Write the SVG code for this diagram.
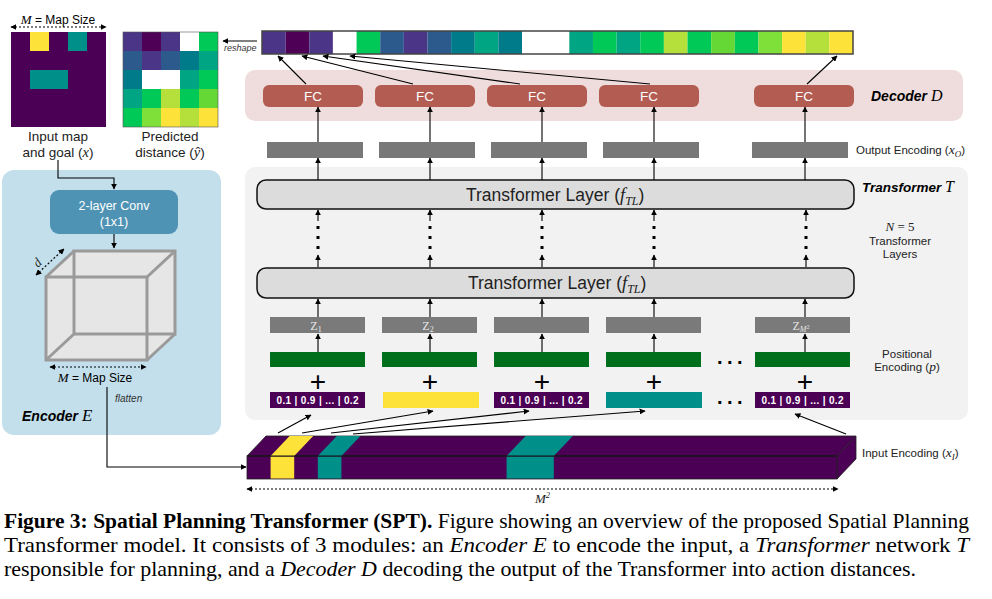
<svg xmlns="http://www.w3.org/2000/svg" width="992" height="599" viewBox="0 0 992 599">
<defs>
<marker id="ah" viewBox="0 0 10 10" refX="9" refY="5" markerWidth="6" markerHeight="6" markerUnits="userSpaceOnUse" orient="auto-start-reverse"><path d="M0,0 L10,5 L0,10 z" fill="#000"/></marker>
<style>
.sans{font-family:"Liberation Sans",Arial,sans-serif}
.ser{font-family:"Liberation Serif","Times New Roman",serif}
.mi{font-family:"Liberation Serif","Times New Roman",serif;font-style:italic}
.ln{stroke:#000;stroke-width:1.1;fill:none}
.arr{stroke:#000;stroke-width:1.1;fill:none;marker-end:url(#ah)}
.dot{stroke:#000;stroke-width:1.2;fill:none;stroke-dasharray:2 2;marker-start:url(#ah);marker-end:url(#ah)}
.fc{fill:#b35c52}
.fct{fill:#fff;font-size:13.5px;text-anchor:middle}
.oe{fill:#787878}
.z{fill:#7a7a7a}
.zt{fill:#e6e6e6;font-size:12px;text-anchor:middle}
.pe{fill:#006f1c}
.tl{fill:#dcdcdc;stroke:#111;stroke-width:1.5}
.tlt{font-size:17.5px;fill:#222}
.lab{font-size:11.5px;fill:#222}
.plus{font-size:28px;text-anchor:middle;fill:#000}
.tok{fill:#fff;font-size:10px;font-weight:bold;text-anchor:middle}
.cube{stroke:#9a9a9a;stroke-width:3;fill:none}
.cap{font-family:"Liberation Serif","Times New Roman",serif;font-size:21px;fill:#000}
</style>
</defs>
<rect width="992" height="599" fill="#fff"/>

<!-- Module backgrounds -->
<g id="decoder-bg"><rect x="245" y="70" width="718" height="51" rx="10" fill="#efdcdc"/></g>
<g id="transformer-bg"><rect x="245" y="167" width="723" height="253" rx="10" fill="#f2f2f2"/></g>
<g id="encoder-bg"><rect x="2" y="170" width="219" height="265" rx="12" fill="#c3dfec"/></g>

<!-- Input map -->
<g id="input-map">
<rect x="11" y="32" width="95" height="95" fill="#4b0055"/>
<rect x="30" y="32" width="19" height="19" fill="#fde23a"/>
<rect x="68" y="32" width="19" height="19" fill="#009089"/>
<rect x="30" y="70" width="38" height="19" fill="#009089"/>
<text class="sans" x="58" y="24" font-size="12" text-anchor="middle" fill="#000"><tspan class="mi" font-size="13">M</tspan> = Map Size</text>
<text class="sans" x="58" y="141" font-size="13.5" text-anchor="middle" fill="#222">Input map</text>
<text class="sans" x="58" y="157" font-size="13.5" text-anchor="middle" fill="#222">and goal (<tspan class="mi" font-size="14.5">x</tspan>)</text>
</g>

<!-- Predicted distance -->
<g id="predicted-distance">
<rect x="123" y="32" width="19" height="19" fill="#4b3587"/>
<rect x="142" y="32" width="19" height="19" fill="#4d0056"/>
<rect x="161" y="32" width="19" height="19" fill="#4b3587"/>
<rect x="180" y="32" width="19" height="19" fill="#ffffff"/>
<rect x="199" y="32" width="19" height="19" fill="#00c957"/>
<rect x="123" y="51" width="19" height="19" fill="#2c5a8c"/>
<rect x="142" y="51" width="19" height="19" fill="#4b3587"/>
<rect x="161" y="51" width="19" height="19" fill="#2c5a8c"/>
<rect x="180" y="51" width="19" height="19" fill="#007b8a"/>
<rect x="199" y="51" width="19" height="19" fill="#00a683"/>
<rect x="123" y="70" width="19" height="19" fill="#007b8a"/>
<rect x="142" y="70" width="38" height="19" fill="#ffffff"/>
<rect x="180" y="70" width="19" height="19" fill="#00a683"/>
<rect x="199" y="70" width="19" height="19" fill="#00c957"/>
<rect x="123" y="89" width="19" height="19" fill="#00a683"/>
<rect x="142" y="89" width="19" height="19" fill="#00c957"/>
<rect x="161" y="89" width="19" height="19" fill="#b5e03b"/>
<rect x="180" y="89" width="19" height="19" fill="#00c957"/>
<rect x="199" y="89" width="19" height="19" fill="#66d836"/>
<rect x="123" y="108" width="19" height="19" fill="#00c957"/>
<rect x="142" y="108" width="19" height="19" fill="#7fe03a"/>
<rect x="161" y="108" width="19" height="19" fill="#fde23a"/>
<rect x="180" y="108" width="19" height="19" fill="#b5e03b"/>
<rect x="199" y="108" width="19" height="19" fill="#fde23a"/>
<rect x="123" y="32" width="95" height="95" fill="none" stroke="#555" stroke-width="0.6"/>
<text class="sans" x="170" y="141" font-size="13.5" text-anchor="middle" fill="#222">Predicted</text>
<text class="sans" x="170" y="157" font-size="13.5" text-anchor="middle" fill="#222">distance (<tspan class="mi" font-size="14.5">ŷ</tspan>)</text>
</g>

<!-- Output bar -->
<g id="output-bar">
<rect x="262" y="31" width="23.64" height="23" fill="#4b3587"/>
<rect x="285.64" y="31" width="23.64" height="23" fill="#4d0056"/>
<rect x="309.28" y="31" width="23.64" height="23" fill="#4b3587"/>
<rect x="332.92" y="31" width="23.64" height="23" fill="#ffffff"/>
<rect x="356.56" y="31" width="23.64" height="23" fill="#00c957"/>
<rect x="380.2" y="31" width="23.64" height="23" fill="#2c5a8c"/>
<rect x="403.84" y="31" width="23.64" height="23" fill="#4b3587"/>
<rect x="427.48" y="31" width="23.64" height="23" fill="#2c5a8c"/>
<rect x="451.12" y="31" width="23.64" height="23" fill="#007b8a"/>
<rect x="474.76" y="31" width="23.64" height="23" fill="#00a683"/>
<rect x="498.4" y="31" width="23.64" height="23" fill="#007b8a"/>
<rect x="522.04" y="31" width="47.28" height="23" fill="#ffffff"/>
<rect x="569.32" y="31" width="23.64" height="23" fill="#00a683"/>
<rect x="592.96" y="31" width="23.64" height="23" fill="#00c957"/>
<rect x="616.6" y="31" width="23.64" height="23" fill="#00a683"/>
<rect x="640.24" y="31" width="23.64" height="23" fill="#00c957"/>
<rect x="663.88" y="31" width="23.64" height="23" fill="#b5e03b"/>
<rect x="687.52" y="31" width="23.64" height="23" fill="#00c957"/>
<rect x="711.16" y="31" width="23.64" height="23" fill="#66d836"/>
<rect x="734.8" y="31" width="23.64" height="23" fill="#00c957"/>
<rect x="758.44" y="31" width="23.64" height="23" fill="#7fe03a"/>
<rect x="782.08" y="31" width="23.64" height="23" fill="#fde23a"/>
<rect x="805.72" y="31" width="23.64" height="23" fill="#b5e03b"/>
<rect x="829.36" y="31" width="23.64" height="23" fill="#fde23a"/>
<rect x="262" y="31" width="591" height="23" fill="none" stroke="#444" stroke-width="1.5"/>
<text class="sans" x="224" y="51" font-size="9" font-style="italic" fill="#333">reshape</text>
</g>

<!-- Decoder -->
<g id="decoder">
<rect class="fc" x="263" y="85" width="100" height="22" rx="6"/><text class="sans fct" x="313" y="101">FC</text>
<rect class="fc" x="375" y="85" width="100" height="22" rx="6"/><text class="sans fct" x="425" y="101">FC</text>
<rect class="fc" x="487" y="85" width="100" height="22" rx="6"/><text class="sans fct" x="537" y="101">FC</text>
<rect class="fc" x="599" y="85" width="100" height="22" rx="6"/><text class="sans fct" x="649" y="101">FC</text>
<rect class="fc" x="754" y="85" width="100" height="22" rx="6"/><text class="sans fct" x="804" y="101">FC</text>
<text class="sans" x="871" y="101" font-size="14" font-weight="bold" font-style="italic" fill="#000">Decoder <tspan class="mi" font-weight="normal" font-size="16">D</tspan></text>
</g>

<!-- Output encoding -->
<g id="output-encoding">
<rect class="oe" x="267" y="142" width="96" height="16"/>
<rect class="oe" x="379" y="142" width="96" height="16"/>
<rect class="oe" x="491" y="142" width="96" height="16"/>
<rect class="oe" x="603" y="142" width="96" height="16"/>
<rect class="oe" x="752" y="142" width="96" height="16"/>
<text class="sans lab" x="856" y="154">Output Encoding (<tspan class="mi" font-size="13.5">x<tspan font-size="9" dy="3">O</tspan></tspan><tspan dy="-3">)</tspan></text>
</g>

<!-- Transformer layers -->
<g id="transformer-layer-top">
<rect class="tl" x="257" y="180" width="597" height="29" rx="9"/>
<text class="sans tlt" x="466" y="201">Transformer Layer (<tspan class="mi" font-size="18.5">f<tspan font-size="12" dy="4">TL</tspan></tspan><tspan dy="-4">)</tspan></text>
</g>
<g id="transformer-layer-bottom">
<rect class="tl" x="257" y="268" width="597" height="30" rx="9"/>
<text class="sans tlt" x="468" y="289">Transformer Layer (<tspan class="mi" font-size="18.5">f<tspan font-size="12" dy="4">TL</tspan></tspan><tspan dy="-4">)</tspan></text>
</g>
<g id="transformer-labels">
<text class="sans" x="862" y="192" font-size="13.5" font-weight="bold" font-style="italic" fill="#000">Transformer <tspan class="mi" font-weight="normal" font-size="16">T</tspan></text>
<text class="mi" x="900" y="231" font-size="13" text-anchor="middle" fill="#222">N<tspan font-style="normal"> = 5</tspan></text>
<text class="sans lab" x="900" y="245" text-anchor="middle">Transformer</text>
<text class="sans lab" x="900" y="258" text-anchor="middle">Layers</text>
<text class="sans lab" x="907" y="358" text-anchor="middle">Positional</text>
<text class="sans lab" x="907" y="371" text-anchor="middle">Encoding (<tspan class="mi" font-size="13.5">p</tspan>)</text>
</g>

<!-- Z tokens -->
<g id="z-tokens">
<rect class="z" x="270" y="317" width="95" height="16"/><text class="ser zt" x="316" y="330">Z<tspan font-size="8" dy="2">1</tspan></text>
<rect class="z" x="382" y="317" width="95" height="16"/><text class="ser zt" x="428" y="330">Z<tspan font-size="8" dy="2">2</tspan></text>
<rect class="z" x="494" y="317" width="95" height="16"/>
<rect class="z" x="606" y="317" width="95" height="16"/>
<rect class="z" x="755" y="317" width="95" height="16"/><text class="ser zt" x="801" y="330">Z<tspan class="mi" font-size="8" dy="2">M</tspan><tspan font-size="6" dy="-3">2</tspan></text>
</g>

<!-- Positional encodings -->
<g id="positional-encoding">
<rect class="pe" x="270" y="352" width="95" height="15"/>
<rect class="pe" x="382" y="352" width="95" height="15"/>
<rect class="pe" x="494" y="352" width="95" height="15"/>
<rect class="pe" x="606" y="352" width="95" height="15"/>
<rect class="pe" x="755" y="352" width="95" height="15"/>
<text class="sans" x="717" y="364" font-size="20" font-weight="bold" letter-spacing="4.4" fill="#000">...</text>
</g>
<g id="plus-signs">
<text class="sans plus" x="318" y="391">+</text>
<text class="sans plus" x="430" y="391">+</text>
<text class="sans plus" x="542" y="391">+</text>
<text class="sans plus" x="654" y="391">+</text>
<text class="sans plus" x="805" y="391">+</text>
</g>

<!-- Input tokens -->
<g id="input-tokens">
<rect x="270" y="392" width="95" height="16" fill="#4b0055"/><text class="sans tok" x="317.5" y="404" textLength="82">0.1 | 0.9 | ... | 0.2</text>
<rect x="383" y="392" width="96" height="16" fill="#fde23a"/>
<rect x="494" y="392" width="95" height="16" fill="#4b0055"/><text class="sans tok" x="541.5" y="404" textLength="82">0.1 | 0.9 | ... | 0.2</text>
<rect x="606" y="392" width="96" height="16" fill="#009089"/>
<rect x="755" y="392" width="95" height="16" fill="#4b0055"/><text class="sans tok" x="802.5" y="404" textLength="82">0.1 | 0.9 | ... | 0.2</text>
<text class="sans" x="717" y="404" font-size="20" font-weight="bold" letter-spacing="4.4" fill="#000">...</text>
</g>

<!-- Input encoding bar -->
<g id="input-encoding" stroke="#222" stroke-width="0.8">
<polygon points="247,456 266,436 856,436 837,456" fill="#4b0055"/>
<polygon points="837,456 856,436 856,459 837,479" fill="#4b0055"/>
<rect x="247" y="456" width="590" height="23" fill="#4b0055"/>
<polygon points="270.6,456 294.2,456 313.2,436 289.6,436" fill="#fde23a" stroke="none"/>
<polygon points="317.8,456 341.4,456 360.4,436 336.8,436" fill="#009089" stroke="none"/>
<polygon points="506.6,456 553.8,456 572.8,436 525.6,436" fill="#009089" stroke="none"/>
<rect x="270.6" y="456.5" width="23.6" height="22" fill="#fde23a" stroke="none"/>
<rect x="317.8" y="456.5" width="23.6" height="22" fill="#009089" stroke="none"/>
<rect x="506.6" y="456.5" width="47.2" height="22" fill="#009089" stroke="none"/>
<line x1="247" y1="456" x2="837" y2="456" stroke="#111" stroke-width="1"/>
<text class="sans lab" x="862" y="457" stroke="none">Input Encoding (<tspan class="mi" font-size="13.5">x<tspan font-size="9" dy="3">I</tspan></tspan><tspan dy="-3">)</tspan></text>
<text class="mi" x="535" y="503" font-size="13" fill="#222" stroke="none">M<tspan font-size="8.5" dy="-5">2</tspan></text>
</g>

<!-- Encoder -->
<g id="encoder">
<rect x="50" y="190" width="128" height="44" rx="9" fill="#4f93b4"/>
<text class="sans" x="114" y="210" font-size="12.5" text-anchor="middle" fill="#fff">2-layer Conv</text>
<text class="sans" x="114" y="226" font-size="12.5" text-anchor="middle" fill="#fff">(1x1)</text>
<polygon points="46,360 46,277 74,251 175,251 175,334 147,360" fill="#e6e6e6"/>
<rect class="cube" x="74" y="251" width="101" height="83"/>
<rect class="cube" x="46" y="277" width="101" height="83"/>
<line class="cube" x1="46" y1="277" x2="74" y2="251"/>
<line class="cube" x1="147" y1="277" x2="175" y2="251"/>
<line class="cube" x1="147" y1="360" x2="175" y2="334"/>
<line class="cube" x1="46" y1="360" x2="74" y2="334"/>
<text class="mi" x="0" y="0" font-size="13" fill="#222" transform="translate(38,268) rotate(-45)">d</text>
<text class="sans" x="95" y="382" font-size="12" text-anchor="middle" fill="#000"><tspan class="mi" font-size="13">M</tspan> = Map Size</text>
<text class="sans" x="115" y="402" font-size="10" font-style="italic" fill="#333">flatten</text>
<text class="sans" x="22" y="421" font-size="14" font-weight="bold" font-style="italic" fill="#000">Encoder <tspan class="mi" font-weight="normal" font-size="17">E</tspan></text>
</g>

<!-- Connectors -->
<g id="connectors">
<line class="arr" x1="257" y1="41" x2="223" y2="41"/>
<line class="arr" x1="306" y1="84" x2="278" y2="56"/>
<line class="arr" x1="413" y1="84" x2="302" y2="56"/>
<line class="arr" x1="520" y1="84" x2="323" y2="56"/>
<line class="arr" x1="650" y1="84" x2="350" y2="56"/>
<line class="arr" x1="807" y1="84" x2="837" y2="56"/>
<line class="arr" x1="318" y1="142" x2="318" y2="107"/>
<line class="arr" x1="430" y1="142" x2="430" y2="107"/>
<line class="arr" x1="542" y1="142" x2="542" y2="107"/>
<line class="arr" x1="654" y1="142" x2="654" y2="107"/>
<line class="arr" x1="805" y1="142" x2="805" y2="107"/>
<line class="arr" x1="318" y1="180" x2="318" y2="158"/>
<line class="arr" x1="430" y1="180" x2="430" y2="158"/>
<line class="arr" x1="542" y1="180" x2="542" y2="158"/>
<line class="arr" x1="654" y1="180" x2="654" y2="158"/>
<line class="arr" x1="805" y1="180" x2="805" y2="158"/>
<g id="layer-stack">
<line class="arr" x1="318" y1="221" x2="318" y2="210"/><line class="arr" x1="318" y1="267" x2="318" y2="255"/>
<line class="arr" x1="430" y1="221" x2="430" y2="210"/><line class="arr" x1="430" y1="267" x2="430" y2="255"/>
<line class="arr" x1="542" y1="221" x2="542" y2="210"/><line class="arr" x1="542" y1="267" x2="542" y2="255"/>
<line class="arr" x1="654" y1="221" x2="654" y2="210"/><line class="arr" x1="654" y1="267" x2="654" y2="255"/>
<line class="arr" x1="806" y1="221" x2="806" y2="210"/><line class="arr" x1="806" y1="267" x2="806" y2="255"/>
<g fill="#000">
<rect x="316.5" y="226" width="3" height="3"/><rect x="316.5" y="236" width="3" height="3"/><rect x="316.5" y="246" width="3" height="3"/>
<rect x="428.5" y="226" width="3" height="3"/><rect x="428.5" y="236" width="3" height="3"/><rect x="428.5" y="246" width="3" height="3"/>
<rect x="540.5" y="226" width="3" height="3"/><rect x="540.5" y="236" width="3" height="3"/><rect x="540.5" y="246" width="3" height="3"/>
<rect x="652.5" y="226" width="3" height="3"/><rect x="652.5" y="236" width="3" height="3"/><rect x="652.5" y="246" width="3" height="3"/>
<rect x="804.5" y="226" width="3" height="3"/><rect x="804.5" y="236" width="3" height="3"/><rect x="804.5" y="246" width="3" height="3"/>
</g>
</g>
<line class="arr" x1="318" y1="317" x2="318" y2="299"/>
<line class="arr" x1="430" y1="317" x2="430" y2="299"/>
<line class="arr" x1="542" y1="317" x2="542" y2="299"/>
<line class="arr" x1="654" y1="317" x2="654" y2="299"/>
<line class="arr" x1="805" y1="317" x2="805" y2="299"/>
<line class="arr" x1="318" y1="352" x2="318" y2="334"/>
<line class="arr" x1="430" y1="352" x2="430" y2="334"/>
<line class="arr" x1="542" y1="352" x2="542" y2="334"/>
<line class="arr" x1="654" y1="352" x2="654" y2="334"/>
<line class="arr" x1="805" y1="352" x2="805" y2="334"/>
<line class="arr" x1="278" y1="433" x2="311" y2="415"/>
<line class="arr" x1="302" y1="433" x2="433" y2="411"/>
<line class="arr" x1="331" y1="433" x2="529" y2="411"/>
<line class="arr" x1="353" y1="434" x2="645" y2="411"/>
<line class="arr" x1="846" y1="434" x2="795" y2="414"/>
<polyline class="arr" points="58,160 58,178 114,178 114,189"/>
<line class="arr" x1="114" y1="234" x2="114" y2="248"/>
<polyline class="arr" points="107,387 107,467 246,467"/>
<line class="dot" x1="11" y1="27" x2="106" y2="27"/>
<line class="dot" x1="50" y1="367" x2="146" y2="367"/>
<line class="dot" x1="36" y1="275" x2="64" y2="249"/>
<line class="dot" x1="247" y1="489" x2="838" y2="489"/>
</g>

<!-- Caption -->
<g id="caption">
<text class="cap" x="4" y="528" textLength="965" lengthAdjust="spacingAndGlyphs"><tspan font-weight="bold">Figure 3: Spatial Planning Transformer (SPT).</tspan> Figure showing an overview of the proposed Spatial Planning</text>
<text class="cap" x="4" y="552" textLength="965" lengthAdjust="spacingAndGlyphs">Transformer model.  It consists of 3 modules: an <tspan font-style="italic">Encoder E</tspan> to encode the input, a <tspan font-style="italic">Transformer</tspan> network <tspan font-style="italic">T</tspan></text>
<text class="cap" x="4" y="576" textLength="912" lengthAdjust="spacingAndGlyphs">responsible for planning, and a <tspan font-style="italic">Decoder D</tspan> decoding the output of the Transformer into action distances.</text>
</g>
</svg>
